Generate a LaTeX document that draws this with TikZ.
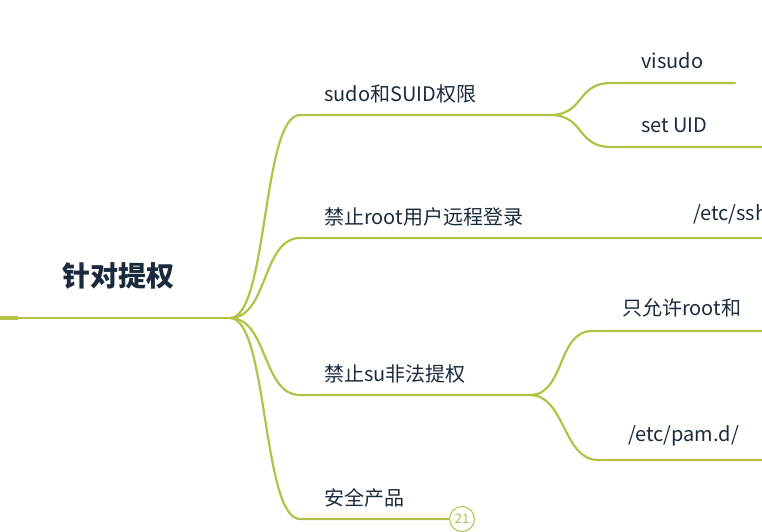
\documentclass[tikz,border=0pt]{standalone}
\usepackage{fontspec}
\setmainfont{Noto Sans CJK SC}
\definecolor{branch}{HTML}{B3C246}
\definecolor{ink}{HTML}{1C2B3C}
\tikzset{
  link/.style={draw=branch,line width=2.2pt,line cap=round},
  label/.style={text=ink,font=\fontsize{20}{24}\selectfont,anchor=south west,inner sep=0pt},
}
\begin{document}
\begin{tikzpicture}[x=1pt,y=-1pt]
  \useasboundingbox (0,0) rectangle (762,532);
  \clip (0,0) rectangle (762,532);
  % root
  \node[text=ink,font=\bfseries\fontsize{28}{32}\selectfont] (root) at (118,276) {针对提权};
  \coordinate (hub) at (230,318);
  \draw[draw=branch,line width=4pt] (0,318) -- (18,318);
  \draw[link] (18,318) -- (hub);
  % first level
  \foreach \n/\y/\e/\t in {a/115/550/sudo和SUID权限, b/238/770/禁止root用户远程登录, c/395/530/禁止su非法提权, d/519/450/安全产品}{
    \coordinate (\n s) at (300,\y);
    \coordinate (\n e) at (\e,\y);
    \draw[link] (hub) .. controls (268,318) and (262,\y) .. (\n s) -- (\n e);
    \node[label] (\n t) at (324,\y-12) {\t};
  }
  \node[label] (bt2) at (693,226) {/etc/ssh/sshd\_config};
  % second level
  \foreach \p/\n/\y/\e/\t/\x in {a/aa/83/735/visudo/641, a/ab/147/770/set UID/641, c/ca/331/770/只允许root和/622, c/cb/460/770/{/etc/pam.d/}/628}{
    \coordinate (\n s) at (\x-30,\y);
    \coordinate (\n e) at (\e,\y);
    \draw[link] (\p e) .. controls ([xshift=35pt]\p e) and ([xshift=-35pt]\n s) .. (\n s) -- (\n e);
    \node[label] (\n t) at (\x,\y-14) {\t};
  }
  % page badge
  \node[draw=branch,line width=1pt,circle,fill=white,inner sep=1pt,minimum size=25pt,
        text=branch,font=\fontsize{13}{13}\selectfont] (page) at (462,519) {21};
\end{tikzpicture}
\end{document}
